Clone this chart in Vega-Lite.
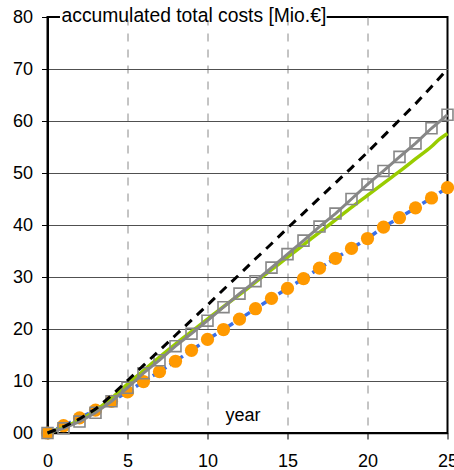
{
  "$schema": "https://vega.github.io/schema/vega-lite/v6.json",
  "width": 400,
  "height": 416,
  "autosize": {"type": "none"},
  "padding": {"left": 47.5, "top": 17, "right": 6.5, "bottom": 37},
  "background": "white",
  "config": {
    "view": {"stroke": "black", "strokeWidth": 2},
    "font": "Liberation Sans"
  },
  "datasets": {
    "costs": [
      {"year": 0, "series": "dashed", "value": 0},
      {"year": 1, "series": "dashed", "value": 1.2},
      {"year": 2, "series": "dashed", "value": 2.7},
      {"year": 3, "series": "dashed", "value": 4.6},
      {"year": 4, "series": "dashed", "value": 7.2},
      {"year": 5, "series": "dashed", "value": 10.1},
      {"year": 6, "series": "dashed", "value": 13.0},
      {"year": 7, "series": "dashed", "value": 15.9},
      {"year": 8, "series": "dashed", "value": 18.8},
      {"year": 9, "series": "dashed", "value": 21.7},
      {"year": 10, "series": "dashed", "value": 24.6},
      {"year": 11, "series": "dashed", "value": 27.6},
      {"year": 12, "series": "dashed", "value": 30.5},
      {"year": 13, "series": "dashed", "value": 33.5},
      {"year": 14, "series": "dashed", "value": 36.4},
      {"year": 15, "series": "dashed", "value": 39.4},
      {"year": 16, "series": "dashed", "value": 42.3},
      {"year": 17, "series": "dashed", "value": 45.2},
      {"year": 18, "series": "dashed", "value": 48.1},
      {"year": 19, "series": "dashed", "value": 51.0},
      {"year": 20, "series": "dashed", "value": 54.0},
      {"year": 21, "series": "dashed", "value": 57.1},
      {"year": 22, "series": "dashed", "value": 60.2},
      {"year": 23, "series": "dashed", "value": 63.3},
      {"year": 24, "series": "dashed", "value": 66.6},
      {"year": 25, "series": "dashed", "value": 70.0},

      {"year": 0, "series": "squares", "value": 0},
      {"year": 1, "series": "squares", "value": 0.9},
      {"year": 2, "series": "squares", "value": 2.2},
      {"year": 3, "series": "squares", "value": 3.9},
      {"year": 4, "series": "squares", "value": 6.1},
      {"year": 5, "series": "squares", "value": 8.7},
      {"year": 6, "series": "squares", "value": 11.5},
      {"year": 7, "series": "squares", "value": 14.0},
      {"year": 8, "series": "squares", "value": 16.7},
      {"year": 9, "series": "squares", "value": 19.1},
      {"year": 10, "series": "squares", "value": 21.6},
      {"year": 11, "series": "squares", "value": 24.2},
      {"year": 12, "series": "squares", "value": 26.8},
      {"year": 13, "series": "squares", "value": 29.2},
      {"year": 14, "series": "squares", "value": 31.8},
      {"year": 15, "series": "squares", "value": 34.4},
      {"year": 16, "series": "squares", "value": 37.0},
      {"year": 17, "series": "squares", "value": 39.7},
      {"year": 18, "series": "squares", "value": 42.2},
      {"year": 19, "series": "squares", "value": 45.0},
      {"year": 20, "series": "squares", "value": 47.8},
      {"year": 21, "series": "squares", "value": 50.4},
      {"year": 22, "series": "squares", "value": 53.1},
      {"year": 23, "series": "squares", "value": 55.7},
      {"year": 24, "series": "squares", "value": 58.6},
      {"year": 25, "series": "squares", "value": 61.2},

      {"year": 0, "series": "green", "value": 0},
      {"year": 1, "series": "green", "value": 1.1},
      {"year": 2, "series": "green", "value": 2.5},
      {"year": 3, "series": "green", "value": 4.3},
      {"year": 4, "series": "green", "value": 6.7},
      {"year": 5, "series": "green", "value": 9.4},
      {"year": 6, "series": "green", "value": 12.0},
      {"year": 7, "series": "green", "value": 14.6},
      {"year": 8, "series": "green", "value": 17.1},
      {"year": 9, "series": "green", "value": 19.5},
      {"year": 10, "series": "green", "value": 21.9},
      {"year": 11, "series": "green", "value": 24.3},
      {"year": 12, "series": "green", "value": 26.6},
      {"year": 13, "series": "green", "value": 29.0},
      {"year": 14, "series": "green", "value": 31.4},
      {"year": 15, "series": "green", "value": 33.8},
      {"year": 16, "series": "green", "value": 36.2},
      {"year": 17, "series": "green", "value": 38.6},
      {"year": 18, "series": "green", "value": 41.0},
      {"year": 19, "series": "green", "value": 43.4},
      {"year": 20, "series": "green", "value": 45.7},
      {"year": 21, "series": "green", "value": 48.0},
      {"year": 22, "series": "green", "value": 50.3},
      {"year": 23, "series": "green", "value": 52.7},
      {"year": 24, "series": "green", "value": 55.1},
      {"year": 24.5, "series": "green", "value": 56.5},
      {"year": 25, "series": "green", "value": 57.6},

      {"year": 0, "series": "circles", "value": 0},
      {"year": 1, "series": "circles", "value": 1.4},
      {"year": 2, "series": "circles", "value": 2.9},
      {"year": 3, "series": "circles", "value": 4.4},
      {"year": 4, "series": "circles", "value": 6.1},
      {"year": 5, "series": "circles", "value": 7.9},
      {"year": 6, "series": "circles", "value": 9.9},
      {"year": 7, "series": "circles", "value": 11.8},
      {"year": 8, "series": "circles", "value": 13.8},
      {"year": 9, "series": "circles", "value": 15.9},
      {"year": 10, "series": "circles", "value": 18.0},
      {"year": 11, "series": "circles", "value": 19.9},
      {"year": 12, "series": "circles", "value": 21.9},
      {"year": 13, "series": "circles", "value": 23.9},
      {"year": 14, "series": "circles", "value": 25.9},
      {"year": 15, "series": "circles", "value": 27.8},
      {"year": 16, "series": "circles", "value": 29.7},
      {"year": 17, "series": "circles", "value": 31.7},
      {"year": 18, "series": "circles", "value": 33.6},
      {"year": 19, "series": "circles", "value": 35.5},
      {"year": 20, "series": "circles", "value": 37.4},
      {"year": 21, "series": "circles", "value": 39.6},
      {"year": 22, "series": "circles", "value": 41.4},
      {"year": 23, "series": "circles", "value": 43.3},
      {"year": 24, "series": "circles", "value": 45.2},
      {"year": 25, "series": "circles", "value": 47.2}
    ],
    "mask": [
      {"x0": 0.78, "x1": 17.45, "y0": 79.4, "y1": 80.6}
    ],
    "label": [
      {"text": "accumulated total costs [Mio.€]", "at": 0.88, "level": 79.1}
    ]
  },
  "data": {"name": "costs"},
  "encoding": {
    "x": {
      "field": "year",
      "type": "quantitative",
      "scale": {"domain": [0, 25], "nice": false},
      "axis": {
        "values": [0, 5, 10, 15, 20, 25],
        "title": "year",
        "titleFont": "Liberation Sans",
        "titleFontSize": 18,
        "titleFontWeight": "normal",
        "titleColor": "black",
        "titleX": 195,
        "titleY": -13,
        "titleAlign": "center",
        "titleBaseline": "alphabetic",
        "labelFont": "Liberation Sans",
        "labelFontSize": 18,
        "labelColor": "black",
        "labelPadding": 13,
        "labelFlush": false,
        "labelOverlap": false,
        "tickColor": "black",
        "tickSize": 6,
        "tickWidth": 1,
        "domainColor": "black",
        "domainWidth": 1.5,
        "grid": true,
        "gridColor": "#8a8a8a",
        "gridWidth": 1,
        "gridDash": [8, 8],
        "gridOpacity": {"condition": {"test": "datum.value == 0 || datum.value == 25", "value": 0}, "value": 1}
      }
    },
    "y": {
      "field": "value",
      "type": "quantitative",
      "scale": {"domain": [0, 80], "nice": false},
      "axis": {
        "values": [0, 10, 20, 30, 40, 50, 60, 70, 80],
        "title": null,
        "labelExpr": "datum.value == 0 ? '00' : datum.label",
        "labelFont": "Liberation Sans",
        "labelFontSize": 18,
        "labelColor": "black",
        "labelPadding": 9,
        "labelFlush": false,
        "labelOverlap": false,
        "tickColor": "black",
        "tickSize": 6,
        "tickWidth": 1,
        "domainColor": "black",
        "domainWidth": 2,
        "grid": true,
        "gridColor": "#505050",
        "gridWidth": 1.2,
        "gridOpacity": {"condition": {"test": "datum.value == 0 || datum.value == 80", "value": 0}, "value": 1}
      }
    }
  },
  "layer": [
    {
      "transform": [{"filter": "datum.series == 'circles'"}],
      "mark": {"type": "line", "color": "#3a6fe8", "strokeWidth": 3.5, "strokeDash": [6, 4]}
    },
    {
      "transform": [{"filter": "datum.series == 'circles'"}],
      "mark": {"type": "point", "shape": "circle", "filled": true, "color": "#ff9900", "opacity": 1, "size": 175}
    },
    {
      "transform": [{"filter": "datum.series == 'green'"}],
      "mark": {"type": "line", "color": "#99cc00", "strokeWidth": 3.5, "interpolate": "monotone"}
    },
    {
      "transform": [{"filter": "datum.series == 'squares'"}],
      "mark": {"type": "line", "color": "#878787", "strokeWidth": 3}
    },
    {
      "transform": [{"filter": "datum.series == 'squares'"}],
      "mark": {"type": "point", "shape": "square", "filled": false, "color": "#878787", "strokeWidth": 1.6, "opacity": 1, "size": 120}
    },
    {
      "transform": [{"filter": "datum.series == 'dashed'"}],
      "mark": {"type": "line", "color": "black", "strokeWidth": 3, "strokeDash": [9, 7]}
    },
    {
      "data": {"name": "mask"},
      "mark": {"type": "rect", "color": "white", "opacity": 1},
      "encoding": {
        "x": {"field": "x0", "type": "quantitative"},
        "x2": {"field": "x1"},
        "y": {"field": "y0", "type": "quantitative"},
        "y2": {"field": "y1"}
      }
    },
    {
      "data": {"name": "label"},
      "mark": {"type": "text", "align": "left", "baseline": "alphabetic", "font": "Liberation Sans", "fontSize": 19.3, "color": "black"},
      "encoding": {
        "x": {"field": "at", "type": "quantitative"},
        "y": {"field": "level", "type": "quantitative"},
        "text": {"field": "text"}
      }
    }
  ]
}
